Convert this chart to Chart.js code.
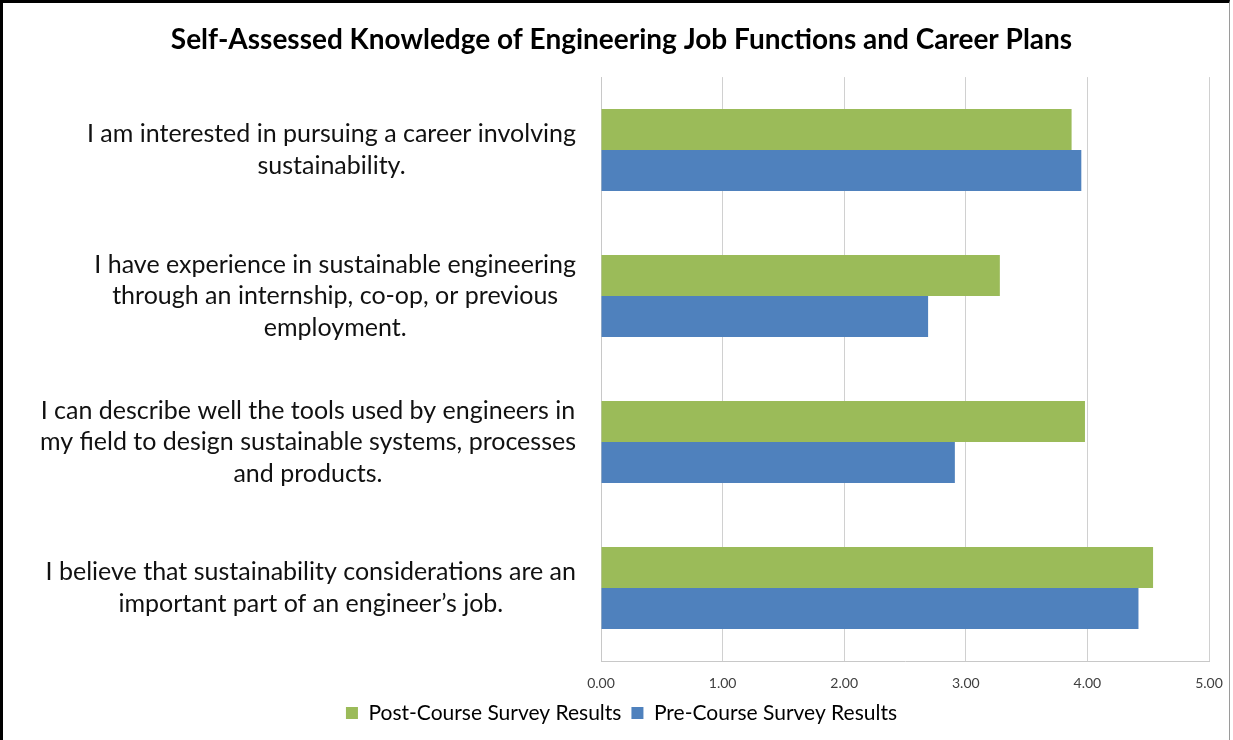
<!DOCTYPE html>
<html lang="en">
<head>
    <meta charset="UTF-8">
    <title>Self-Assessed Knowledge of Engineering Job Functions and Career Plans</title>
    <script src="https://cdn.jsdelivr.net/npm/chart.js"></script>
    <style>
        body {
            margin: 0;
            padding: 0;
            background: #ffffff;
        }
        .wrap {
            position: relative;
            width: 1233px;
            height: 740px;
        }
        .frame {
            position: absolute;
            left: 0;
            top: 0;
            width: 1230px;
            height: 740px;
            border-left: 3px solid #000;
            border-top: 3px solid #000;
            border-right: 1px solid #9a9a9a;
            box-sizing: border-box;
            pointer-events: none;
        }
    </style>
</head>
<body>
    <div class="wrap">
        <canvas id="surveyChart" width="1233" height="740"></canvas>
        <div class="frame"></div>
    </div>
    <script>
        // survey statements, one entry per line of the wrapped label
        const categories = [
            ['I am interested in pursuing a career involving', 'sustainability.'],
            ['I have experience in sustainable engineering', 'through an internship, co-op, or previous', 'employment.'],
            ['I can describe well the tools used by engineers in', 'my field to design sustainable systems, processes', 'and products.'],
            ['I believe that sustainability considerations are an', 'important part of an engineer\u2019s job.']
        ];
        const postCourse = [3.87, 3.28, 3.98, 4.54];
        const preCourse = [3.95, 2.69, 2.91, 4.42];
        const xTicks = [0, 1, 2, 3, 4, 5];

        const labelFont = '25px Lato';
        const labelLineHeight = 31.5;
        const leftPad = 34;

        // draws the wrapped statements: each block right-aligned, lines centred inside it
        const statementLabels = {
            id: 'statementLabels',
            afterDraw(chart) {
                const yScale = chart.scales.y;
                const ctx = chart.ctx;
                ctx.save();
                ctx.font = labelFont;
                ctx.fillStyle = '#111';
                ctx.textAlign = 'center';
                ctx.textBaseline = 'middle';
                categories.forEach((lines, i) => {
                    const y = yScale.getPixelForTick(i);
                    const widest = Math.max(...lines.map(l => ctx.measureText(l).width));
                    const cx = yScale.right - 25 - widest / 2;
                    lines.forEach((line, j) => {
                        ctx.fillText(line, cx, y + (j - (lines.length - 1) / 2) * labelLineHeight);
                    });
                });
                ctx.restore();
            }
        };

        new Chart(document.getElementById('surveyChart').getContext('2d'), {
            type: 'bar',
            data: {
                labels: categories,
                datasets: [{
                    label: 'Post-Course Survey Results',
                    data: postCourse,
                    backgroundColor: '#9BBB59'
                }, {
                    label: 'Pre-Course Survey Results',
                    data: preCourse,
                    backgroundColor: '#4F81BD'
                }]
            },
            options: {
                indexAxis: 'y',
                responsive: false,
                animation: false,
                layout: { padding: { left: leftPad, right: 24, top: 0, bottom: 6.5 } },
                datasets: {
                    bar: { categoryPercentage: 0.5616, barPercentage: 1.0 }
                },
                scales: {
                    x: {
                        min: 0,
                        max: 5,
                        afterBuildTicks: scale => { scale.ticks = xTicks.map(v => ({ value: v })); },
                        // invisible tick marks push the labels down without widening the side padding
                        grid: { color: '#d0d0d0', drawTicks: true, tickLength: 14, tickColor: 'rgba(0,0,0,0)' },
                        border: { color: '#c8c8c8' },
                        ticks: {
                            padding: 0,
                            color: '#404040',
                            font: { family: 'Lato', size: 14 },
                            callback: v => Number(v).toFixed(2)
                        },
                        afterFit: scale => { scale.height = 31.5; }
                    },
                    y: {
                        grid: { display: false },
                        border: { color: '#c8c8c8' },
                        ticks: { display: false },
                        afterFit: scale => { scale.width = 601 - leftPad; }
                    }
                },
                plugins: {
                    title: {
                        display: true,
                        text: 'Self-Assessed Knowledge of Engineering Job Functions and Career Plans',
                        color: '#000',
                        font: { family: 'Lato', size: 28, weight: 'bold', lineHeight: 1.2 },
                        padding: { top: 23, bottom: 20.5 }
                    },
                    legend: {
                        position: 'bottom',
                        labels: {
                            color: '#000',
                            font: { family: 'Lato', size: 21 },
                            boxWidth: 12,
                            boxHeight: 12,
                            padding: 10
                        }
                    },
                    tooltip: { enabled: false }
                }
            },
            plugins: [statementLabels]
        });
    </script>
</body>
</html>
